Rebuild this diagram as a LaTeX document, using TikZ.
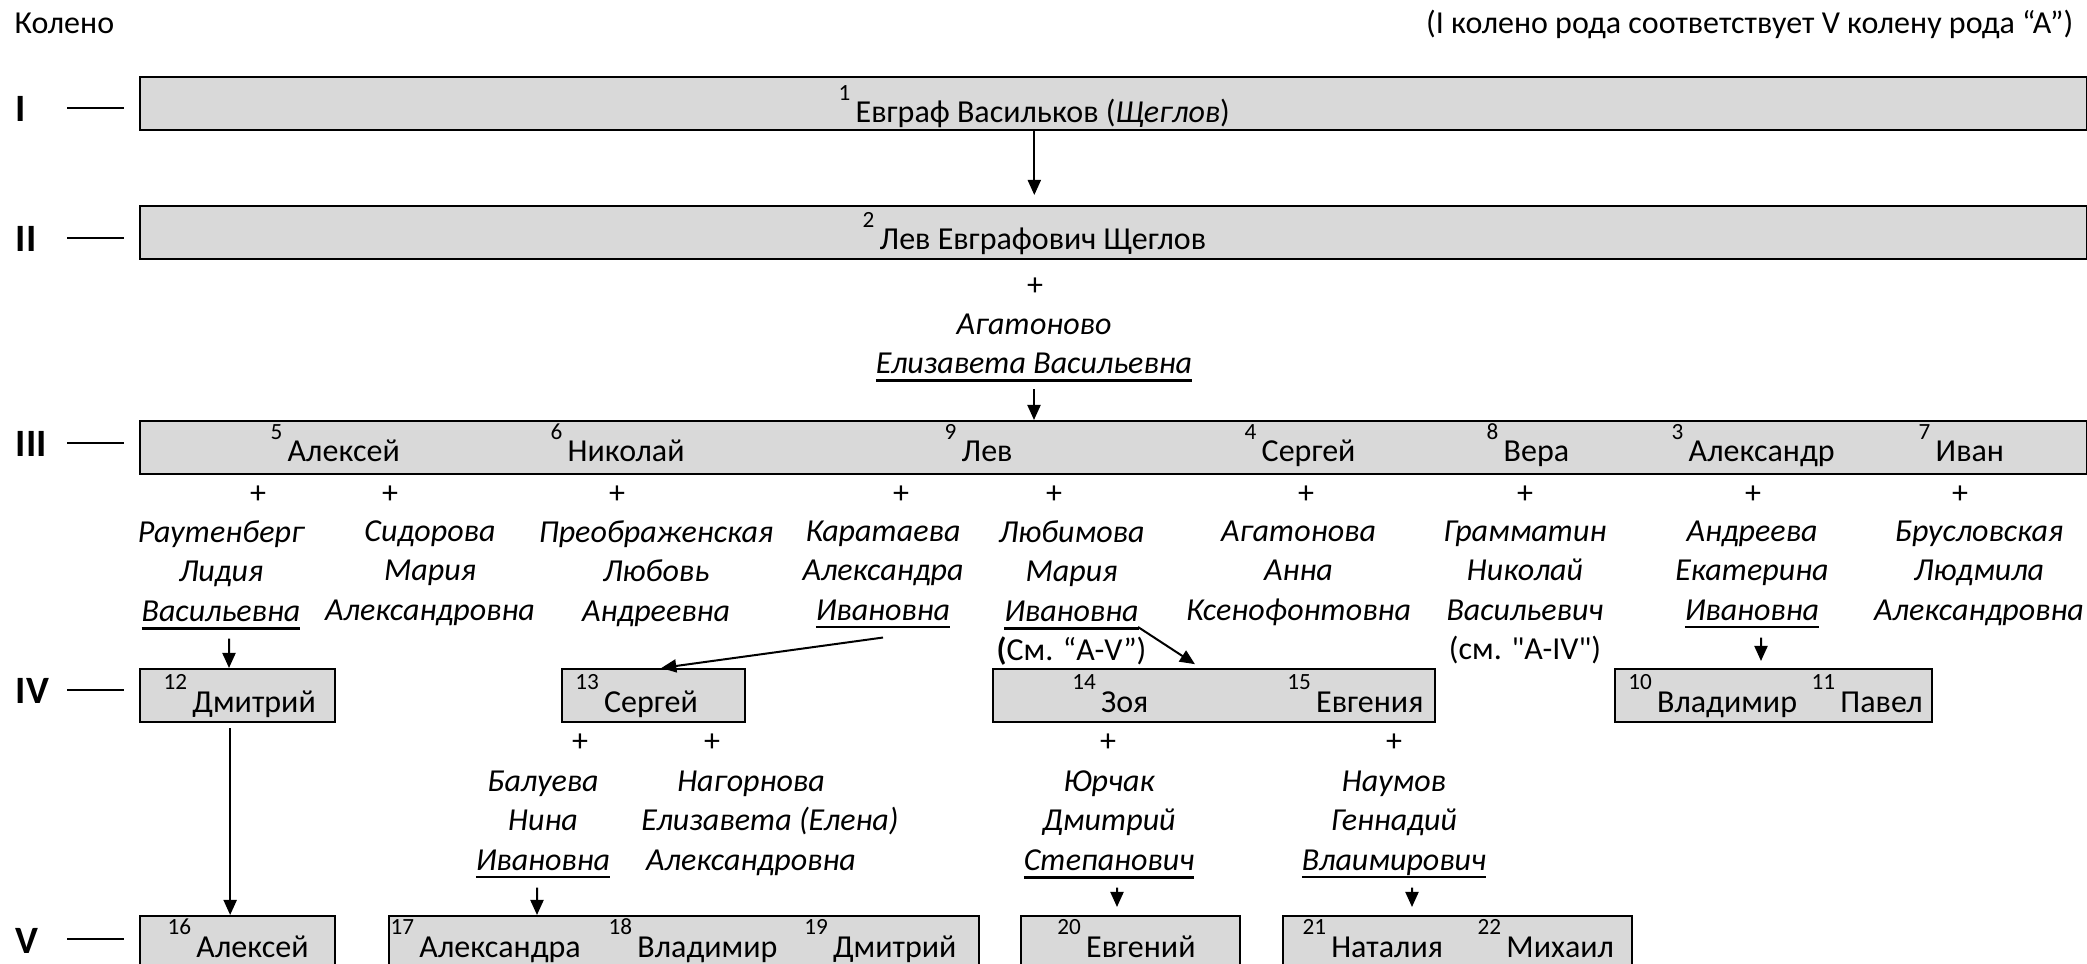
\documentclass[tikz,border=0pt]{standalone}
\usepackage{fontspec}
\setmainfont{Carlito}[Ligatures=TeXOff]
\usetikzlibrary{arrows.meta}

\definecolor{cellgray}{HTML}{D9D9D9}
\newcommand\basesize{\fontsize{9.1pt}{11.2pt}\selectfont}
\newcommand\pers[2]{\raisebox{6.26pt}{\fontsize{6.6pt}{7pt}\selectfont #1\ }#2}
\newcommand\undl[1]{\leavevmode\setbox0\hbox{#1}\rlap{\rule[-2.4pt]{\wd0}{0.77pt}}\box0}

\begin{document}
\begin{tikzpicture}[x=0.01cm, y=-0.01cm,
    box/.style={draw, fill=cellgray, line width=0.02cm, inner sep=0, anchor=north west, minimum height=0.53cm},
    who/.style={anchor=base west, inner sep=0, font=\basesize},
    wife/.style={anchor=north, inner sep=0, align=center, font=\basesize\itshape, execute at begin node=\strut},
    plus/.style={inner sep=0, font=\basesize},
    gen/.style={anchor=base west, inner sep=0, font=\fontsize{11pt}{13pt}\selectfont\bfseries},
    tick/.style={line width=0.025cm},
    arr/.style={line width=0.02cm, -{Triangle[length=0.15cm, width=0.13cm]}}]
    \useasboundingbox (0,0) rectangle (2087,964);
    \clip (0,0) rectangle (2087,964);

    \node[who] (top) at (14,34) {Колено};
    \node[anchor=base east, inner sep=0, font=\basesize] (note) at (2074,34) {(I колено рода соответствует V колену рода “A”)};

    % generations
    \node[gen] (gI) at (15,122) {I};
    \node[gen] (gII) at (15,252) {II};
    \node[gen] (gIII) at (15,457) {III};
    \node[gen] (gIV) at (15,704) {IV};
    \node[gen] (gV) at (15,953) {V};
    \draw[tick] ([shift={(52,-14)}]gI.base west) -- ++(57,0);
    \draw[tick] ([shift={(52,-14)}]gII.base west) -- ++(57,0);
    \draw[tick] ([shift={(52,-14)}]gIII.base west) -- ++(57,0);
    \draw[tick] ([shift={(52,-14)}]gIV.base west) -- ++(57,0);
    \draw[tick] ([shift={(52,-14)}]gV.base west) -- ++(57,0);

    % boxes
    \node[box, minimum width=19.46cm] (b1) at (138.6,76) {};
    \node[box, minimum width=19.46cm] (b2) at (138.6,205) {};
    \node[box, minimum width=19.46cm] (b3) at (138.6,420) {};
    \node[box, minimum width=1.95cm] (b4a) at (138.6,668) {};
    \node[box, minimum width=1.835cm] (b4b) at (560.5,668) {};
    \node[box, minimum width=4.42cm] (b4c) at (991.7,668) {};
    \node[box, minimum width=3.17cm] (b4d) at (1614,668) {};
    \node[box, minimum width=1.95cm] (b5a) at (138.6,915) {};
    \node[box, minimum width=5.9cm] (b5b) at (388,915) {};
    \node[box, minimum width=2.19cm] (b5c) at (1019.6,915) {};
    \node[box, minimum width=3.49cm] (b5d) at (1281.7,915) {};

    % people
    \node[who] (1) at (838,123) {\pers{1}{Евграф Васильков (\textit{Щеглов})}};
    \node[who] (2) at (862,250) {\pers{2}{Лев Евграфович Щеглов}};
    \node[who] (5) at (270,462) {\pers{5}{Алексей}};
    \node[who] (6) at (550,462) {\pers{6}{Николай}};
    \node[who] (9) at (944,462) {\pers{9}{Лев}};
    \node[who] (4) at (1244,462) {\pers{4}{Сергей}};
    \node[who] (8) at (1486,462) {\pers{8}{Вера}};
    \node[who] (3) at (1671,462) {\pers{3}{Александр}};
    \node[who] (7) at (1918,462) {\pers{7}{Иван}};
    \node[who] (12) at (163,712) {\pers{12}{Дмитрий}};
    \node[who] (13) at (574.6,712) {\pers{13}{Сергей}};
    \node[who] (14) at (1071.7,712) {\pers{14}{Зоя}};
    \node[who] (15) at (1286.7,712) {\pers{15}{Евгения}};
    \node[who] (10) at (1627.6,712) {\pers{10}{Владимир}};
    \node[who] (11) at (1811,712) {\pers{11}{Павел}};
    \node[who] (16) at (167,957) {\pers{16}{Алексей}};
    \node[who] (17) at (390,957) {\pers{17}{Александра}};
    \node[who] (18) at (608,957) {\pers{18}{Владимир}};
    \node[who] (19) at (803.6,957) {\pers{19}{Дмитрий}};
    \node[who] (20) at (1056.7,957) {\pers{20}{Евгений}};
    \node[who] (21) at (1301.8,957) {\pers{21}{Наталия}};
    \node[who] (22) at (1477,957) {\pers{22}{Михаил}};

    % spouses
    \node[plus] (pl2) at (1035,287) {+};
    \node[wife] (w2) at (1034,313) {Агатоново\\\undl{Елизавета Васильевна}};

    \node[plus] (pl5a) at (258,495) {+};
    \node[plus] (pl5b) at (390,495) {+};
    \node[plus] (pl6) at (617,495) {+};
    \node[plus] (pl9a) at (901,495) {+};
    \node[plus] (pl9b) at (1054,495) {+};
    \node[plus] (pl4) at (1306,495) {+};
    \node[plus] (pl8) at (1525,495) {+};
    \node[plus] (pl3) at (1753,495) {+};
    \node[plus] (pl7) at (1960,495) {+};
    \node[wife] (w5a) at (221,520) {Раутенберг\\Лидия\\\undl{Васильевна}};
    \node[wife] (w5b) at (430,520) {Сидорова\\Мария\\Александровна};
    \node[wife] (w6) at (656,520) {Преображенская\\Любовь\\Андреевна};
    \node[wife] (w9a) at (883,520) {Каратаева\\Александра\\\undl{Ивановна}};
    \node[wife] (w9b) at (1071.5,520) {Любимова\\Мария\\\undl{Ивановна}\\\upshape\textbf{(}См. “А-V”)};
    \node[wife] (w4) at (1298.5,520) {Агатонова\\Анна\\Ксенофонтовна};
    \node[wife] (w8) at (1525,520) {Грамматин\\Николай\\Васильевич\\\upshape(см. "А-IV")};
    \node[wife] (w3) at (1752,520) {Андреева\\Екатерина\\\undl{Ивановна}};
    \node[wife] (w7) at (1979,520) {Брусловская\\Людмила\\Александровна};

    \node[plus] (pl13a) at (580,743) {+};
    \node[plus] (pl13b) at (712,743) {+};
    \node[plus] (pl14) at (1108,743) {+};
    \node[plus] (pl15) at (1394,743) {+};
    \node[wife] (w13a) at (543,770) {Балуева\\Нина\\\undl{Ивановна}};
    \node[wife] (w13b) at (751,770) {Нагорнова\\\hspace*{0.38cm}Елизавета (Елена)\\Александровна};
    \node[wife] (w14) at (1109,770) {Юрчак\\Дмитрий\\\undl{Степанович}};
    \node[wife] (w15) at (1394,770) {Наумов\\Геннадий\\\undl{Влаимирович}};

    % descent
    \coordinate (w9u) at (1138,627);
    \draw[arr, shorten >=0.1cm] (1 |- b1.south) -- (1 |- b2.north);
    \draw[arr] ([yshift=-0.03cm]w2.south) -- (w2.south |- b3.north);
    \draw[arr] ([shift={(8,5)}]w5a.south) -- ([xshift=0.08cm]w5a.south |- b4a.north);
    \draw[arr, shorten <=0.05cm] ([xshift=-0.07cm]b4a.south) -- ([xshift=-0.07cm]b5a.north);
    \draw[arr] ([yshift=-0.05cm]w9a.south) -- ([xshift=0.08cm]b4b.north);
    \draw[arr, shorten >=0.07cm] (w9u) -- ([xshift=-0.13cm]b4c.north);
    \draw[arr, shorten >=0.07cm] ([shift={(9,5)}]w3.south) -- ([xshift=0.09cm]w3.south |- b4d.north);
    \draw[arr] ([shift={(-6,5)}]w13a.south) -- ([xshift=-0.06cm]w13a.south |- b5b.north);
    \draw[arr, shorten >=0.08cm] ([shift={(8,5)}]w14.south) -- ([xshift=0.08cm]w14.south |- b5c.north);
    \draw[arr, shorten >=0.08cm] ([shift={(18,5)}]w15.south) -- ([xshift=0.18cm]w15.south |- b5d.north);
\end{tikzpicture}
\end{document}
